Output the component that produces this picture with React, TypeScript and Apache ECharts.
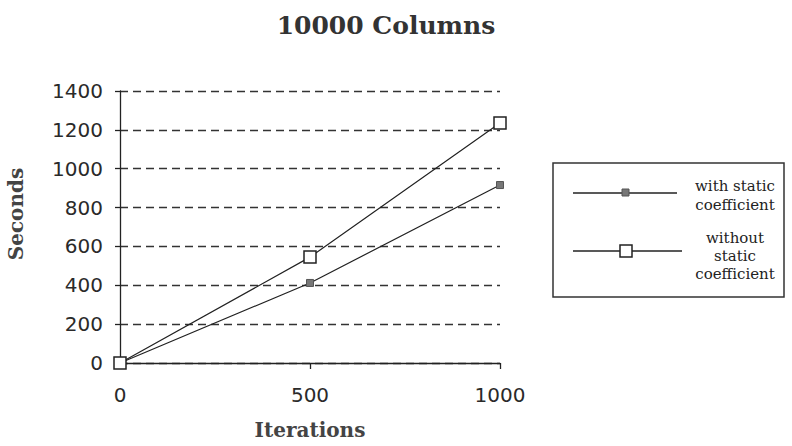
import React, { useEffect, useRef } from "react";
import * as echarts from "echarts";

const iterations = [0, 500, 1000];
const withStatic = [0, 412, 916];
const withoutStatic = [0, 545, 1235];
const seriesNames = ["with static\ncoefficient", "without\nstatic\ncoefficient"];
const title = "10000 Columns";
const xName = "Iterations";
const yName = "Seconds";

export default function App() {
  const ref = useRef<HTMLDivElement>(null);
  useEffect(() => {
    const chart = echarts.init(ref.current!, null, { renderer: "svg" });
    const tickFont = { fontFamily: "DejaVu Sans", fontSize: 20, color: "#2a2a2a" };
    const nameFont = { fontFamily: "DejaVu Serif", fontWeight: "bold", fontSize: 20, color: "#444" };
    chart.setOption({
      animation: false,
      backgroundColor: "#fff",
      title: {
        text: title,
        left: 381,
        top: 8,
        textAlign: "center",
        textStyle: { fontFamily: "DejaVu Serif", fontWeight: "bold", fontSize: 25, color: "#333" },
      },
      grid: { left: 120, right: 292, top: 91, bottom: 83 },
      xAxis: {
        type: "value",
        min: 0,
        max: 1000,
        interval: 500,
        name: xName,
        nameLocation: "middle",
        nameGap: 57,
        nameTextStyle: nameFont,
        axisLine: { show: true, lineStyle: { color: "#222", width: 1.3 } },
        axisTick: { show: true, length: 6, lineStyle: { color: "#222", width: 1.3 } },
        axisLabel: { ...tickFont, margin: 22, formatter: (v: number) => String(v) },
        splitLine: { show: false },
      },
      yAxis: {
        type: "value",
        min: 0,
        max: 1400,
        interval: 200,
        axisLine: { show: true, lineStyle: { color: "#222", width: 1.3 } },
        axisTick: { show: true, length: 5, lineStyle: { color: "#222", width: 1.3 } },
        axisLabel: { ...tickFont, margin: 17, formatter: (v: number) => String(v) },
        splitLine: { show: true, lineStyle: { color: "#333", type: [8, 5], width: 1.3 } },
      },
      series: [
        {
          name: seriesNames[0],
          type: "line",
          data: iterations.map((x, i) => [x, withStatic[i]]),
          symbol: "rect",
          symbolSize: 7,
          showAllSymbol: true,
          lineStyle: { color: "#222", width: 1.2 },
          itemStyle: { color: "#777", borderColor: "#555", borderWidth: 1 },
          z: 3,
        },
        {
          name: seriesNames[1],
          type: "line",
          data: iterations.map((x, i) => [x, withoutStatic[i]]),
          symbol: "rect",
          symbolSize: 12,
          showAllSymbol: true,
          lineStyle: { color: "#222", width: 1.2 },
          itemStyle: { color: "#fff", borderColor: "#222", borderWidth: 1.5 },
          z: 4,
        },
      ],
      graphic: [
        {
          type: "text",
          x: 16,
          y: 214,
          rotation: Math.PI / 2,
          style: {
            text: yName,
            align: "center",
            verticalAlign: "middle",
            fontFamily: "DejaVu Serif",
            fontWeight: "bold",
            fontSize: 20,
            fill: "#444",
          },
        },
        {
          type: "rect",
          shape: { x: 553, y: 163, width: 231, height: 134 },
          style: { fill: "#fff", stroke: "#333", lineWidth: 1.5 },
        },
        { type: "line", shape: { x1: 573, y1: 193, x2: 677, y2: 193 }, style: { stroke: "#222", lineWidth: 1.5 } },
        {
          type: "rect",
          shape: { x: 622, y: 189, width: 7, height: 7 },
          style: { fill: "#777", stroke: "#555", lineWidth: 1 },
        },
        {
          type: "text",
          x: 735,
          y: 195,
          style: {
            text: seriesNames[0],
            align: "center",
            verticalAlign: "middle",
            fontFamily: "DejaVu Serif",
            fontSize: 15,
            lineHeight: 19,
            fill: "#222",
          },
        },
        { type: "line", shape: { x1: 573, y1: 251, x2: 682, y2: 251 }, style: { stroke: "#222", lineWidth: 1.5 } },
        {
          type: "rect",
          shape: { x: 620, y: 245, width: 12, height: 12 },
          style: { fill: "#fff", stroke: "#222", lineWidth: 1.5 },
        },
        {
          type: "text",
          x: 735,
          y: 256,
          style: {
            text: seriesNames[1],
            align: "center",
            verticalAlign: "middle",
            fontFamily: "DejaVu Serif",
            fontSize: 15,
            lineHeight: 18,
            fill: "#222",
          },
        },
      ],
    });
    return () => chart.dispose();
  }, []);
  return <div ref={ref} style={{ width: 792, height: 446, position: "absolute", left: 0, top: 0 }} />;
}
